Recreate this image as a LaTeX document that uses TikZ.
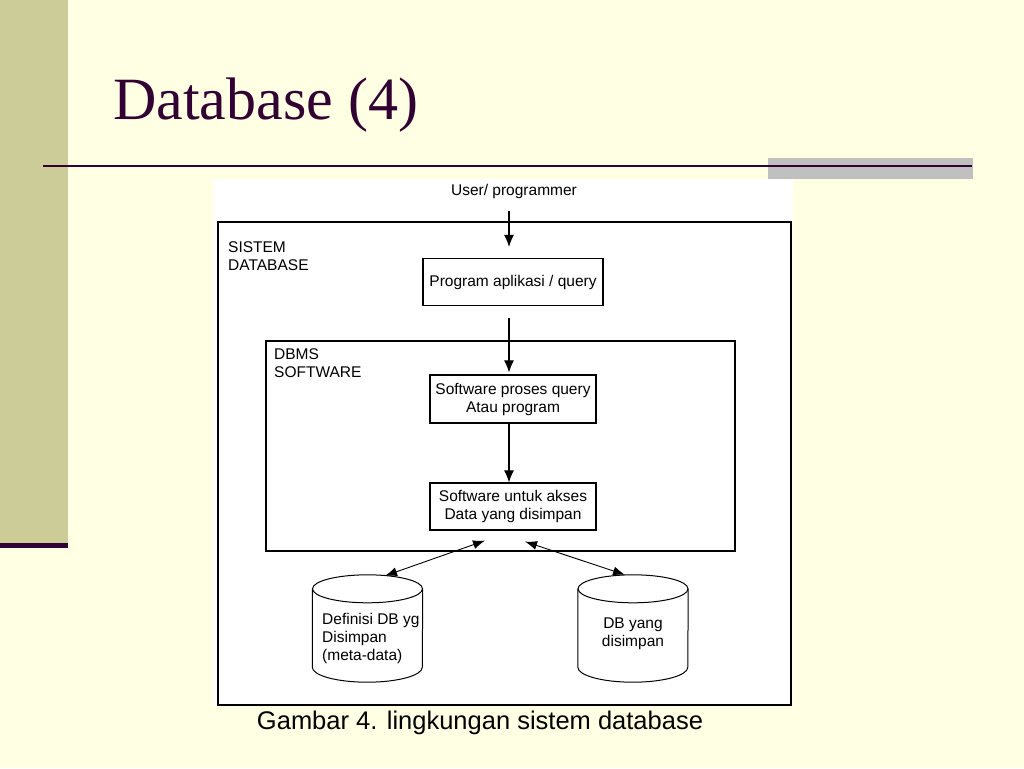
\documentclass[tikz,border=0pt]{standalone}
\usepackage{fontspec}
\setmainfont{Liberation Serif}
\newfontfamily\arialf{Liberation Sans}
\usetikzlibrary{arrows.meta}
\definecolor{bg}{HTML}{FFFFE3}
\definecolor{band}{HTML}{CCCC99}
\definecolor{plum}{HTML}{330033}
\definecolor{grayb}{HTML}{C0C0C0}
\begin{document}
\begin{tikzpicture}[x=1pt,y=-1pt,
  lbl/.style={font=\arialf\fontsize{15.5}{18}\selectfont, text=black, inner sep=0pt},
  procbox/.style={lbl, draw, line width=1.2pt, align=center},
  frame/.style={draw, line width=1.1pt, inner sep=0pt},
  arr/.style={-{Latex[length=12pt,width=10pt]}, line width=1.1pt},
  dbl/.style={{Latex[length=12pt,width=9pt]}-{Latex[length=12pt,width=9pt]}, line width=0.9pt},
  cyl/.style={inner sep=0pt, minimum width=110pt, minimum height=107pt}]
% slide background
\fill[bg] (0,0) rectangle (1024,768);
\useasboundingbox (0,0) rectangle (1024,768);
\fill[band] (0,0) rectangle (68,545);
\fill[plum] (0,543) rectangle (68,548);
\fill[grayb] (768,158) rectangle (973,179);
\draw[plum, line width=2.5pt] (43,166) -- (972,166);
\node[anchor=base west, text=plum, font=\fontsize{60}{66}\selectfont, inner sep=0pt] (title) at (113,119) {Database (4)};
% picture area
\fill[white] (213,179) rectangle (793,706);
\node[frame, minimum width=573pt, minimum height=483pt] (sis) at (504.5,463.5) {};
\node[frame, minimum width=469pt, minimum height=210pt] (dbms) at (500.5,446) {};
\node[lbl, anchor=north west, align=left] (sislbl) at (228,241) {SISTEM\\DATABASE};
\node[lbl, anchor=north west, align=left] (dbmslbl) at (274,348) {DBMS\\SOFTWARE};
\node[lbl] (user) at (514,191) {User/ programmer};
\node[procbox, minimum width=180pt, minimum height=47pt] (prog) at (513,282) {Program aplikasi / query};
\node[procbox, minimum width=166pt, minimum height=48pt] (proses) at (513,399) {Software proses query\\Atau program};
\node[procbox, minimum width=166pt, minimum height=47pt] (akses) at (513,506.5) {Software untuk akses\\Data yang disimpan};
% arrows
\coordinate (ax) at (509,0);
\coordinate (ustart) at (509,211);
\draw[arr, shorten >=11pt] (ustart) -- (prog.north -| ax);
\draw[arr, shorten <=12pt, shorten >=2pt] (prog.south -| ax) -- (proses.north -| ax);
\draw[arr] (proses.south -| ax) -- (akses.north -| ax);
% cylinders
\node[cyl] (cylL) at (367.5,628.5) {};
\node[cyl] (cylR) at (633,628.5) {};
\foreach \c in {cylL,cylR}{
  \draw[line width=1pt] ([yshift=-14pt]\c.north) ellipse [x radius=55pt, y radius=14pt];
  \draw[line width=1pt] ([yshift=-14pt]\c.north west) -- ([yshift=15pt]\c.south west)
     arc[start angle=180, end angle=360, x radius=55pt, y radius=15pt] -- ([yshift=-14pt]\c.north east);
}
\node[lbl, align=left, anchor=north west] (cylLtxt) at (322,613) {Definisi DB yg\\Disimpan\\(meta-data)};
\node[lbl, align=center, anchor=north] (cylRtxt) at (633,618) {DB yang\\disimpan};
% double arrows
\coordinate (d1) at ([shift={(-28,10)}]akses.south);
\coordinate (d2) at ([shift={(17.5,1)}]cylL.north);
\coordinate (d3) at ([shift={(12,11)}]akses.south);
\coordinate (d4) at ([shift={(-8,0)}]cylR.north);
\draw[dbl] (d1) -- (d2);
\draw[dbl] (d3) -- (d4);
% caption
\node[anchor=base, font=\arialf\fontsize{25.5}{30}\selectfont, inner sep=0pt] (cap) at (480,729) {Gambar 4. lingkungan sistem database};
\end{tikzpicture}
\end{document}
